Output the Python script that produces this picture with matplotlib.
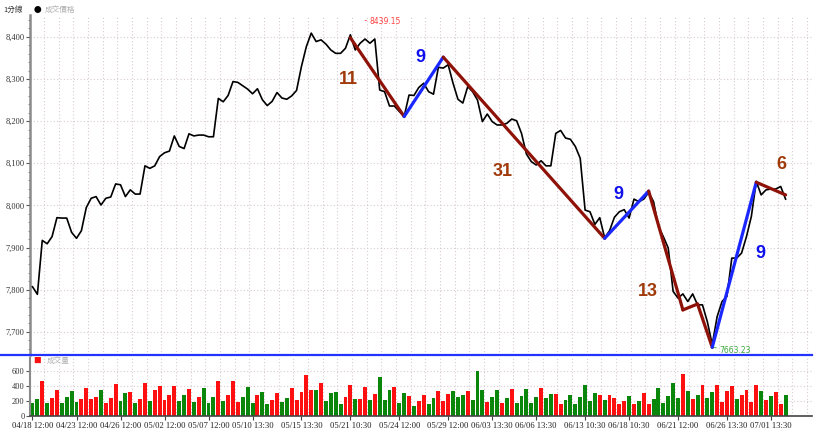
import matplotlib
matplotlib.use("Agg")
import matplotlib.pyplot as plt
import numpy as np

# ---------------------------------------------------------------
# datos (1 punto por barra)
# ---------------------------------------------------------------
price = [7807, 7789, 7917, 7909, 7926, 7971, 7970, 7970, 7936, 7922,
         7940, 7995, 8017, 8021, 8001, 8017, 8020, 8051, 8049, 8021,
         8037, 8027, 8027, 8094, 8088, 8094, 8116, 8125, 8129, 8165,
         8140, 8135, 8170, 8165, 8167, 8167, 8163, 8163, 8254, 8246,
         8261, 8294, 8292, 8284, 8276, 8265, 8277, 8251, 8237, 8247,
         8268, 8255, 8252, 8260, 8273, 8330, 8377, 8409, 8389, 8393,
         8383, 8369, 8361, 8361, 8373, 8405, 8369, 8385, 8395, 8385,
         8395, 8274, 8270, 8236, 8236, 8223, 8211, 8262, 8261, 8280,
         8290, 8270, 8264, 8328, 8326, 8334, 8290, 8252, 8243, 8282,
         8270, 8250, 8199, 8217, 8199, 8191, 8191, 8195, 8205, 8201,
         8171, 8122, 8104, 8096, 8106, 8094, 8094, 8171, 8178, 8160,
         8157, 8140, 8112, 7989, 7985, 7955, 7971, 7923, 7940, 7972,
         7985, 7990, 7970, 8015, 8009, 8015, 8031, 8009, 7950, 7926,
         7899, 7796, 7780, 7790, 7772, 7790, 7764, 7764, 7724, 7670,
         7736, 7772, 7784, 7875, 7875, 7887, 7926, 7974, 8057, 8025,
         8037, 8039, 8039, 8045, 8015]

volume = [169, 231, 466, 169, 244, 351, 169, 258, 333, 191,
          231, 369, 222, 258, 351, 173, 240, 431, 200, 302,
          320, 178, 231, 440, 204, 351, 404, 209, 284, 404,
          200, 275, 360, 191, 249, 373, 173, 249, 466, 204,
          284, 466, 182, 258, 382, 178, 275, 320, 155, 213,
          311, 187, 235, 369, 213, 320, 546, 342, 342, 435,
          200, 302, 320, 164, 249, 408, 222, 226, 382, 213,
          297, 524, 213, 342, 382, 173, 306, 266, 129, 200,
          280, 155, 235, 337, 200, 297, 333, 253, 280, 337,
          209, 604, 342, 182, 253, 342, 173, 244, 355, 173,
          271, 360, 173, 258, 369, 235, 298, 298, 164, 218,
          284, 164, 253, 413, 200, 311, 284, 213, 284, 235,
          155, 200, 266, 164, 204, 306, 155, 222, 369, 178,
          266, 435, 235, 555, 333, 222, 284, 408, 235, 315,
          408, 191, 329, 400, 222, 280, 351, 182, 417, 333,
          209, 266, 320, 164, 275]

# r = barra roja, g = barra verde (10 por bloque)
vol_color = ("ggrgrrgggg" "rrrrgrrrgg" "rgrrgrrrrr" "ggrgrgggrg"
             "rrrgggrggr" "rggrrrrrgr" "ggggrrgrrg" "rgggrggrgr"
             "rggrrrgggr" "gggrggrgrg" "ggggrggrrg" "ggggggrgrr"
             "rrgrgrrggg" "gggrgrgrgg" "rrrrgrrrrg" "rgrrg")

tick_idx = [0, 9, 18, 27, 36, 45, 55, 65, 75, 85, 94, 103, 113, 122, 132, 142, 151]
tick_labels = ["04/18 12:00", "04/23 12:00", "04/26 12:00", "05/02 12:00",
               "05/07 12:00", "05/10 13:30", "05/15 13:30", "05/21 10:30",
               "05/24 12:00", "05/29 12:00", "06/03 13:30", "06/06 13:30",
               "06/13 10:30", "06/18 10:30", "06/21 12:00", "06/26 13:30",
               "07/01 13:30"]

# lineas de tendencia (zigzag)
zig_idx = [65, 76, 84, 117, 126, 133, 136, 139, 148, 154]
zig_val = [8398, 8211, 8352, 7922, 8034, 7752, 7766, 7663.23, 8055, 8025]
zig_up = [False, True, False, True, False, False, False, True, False]

leg_text = ["11", "9", "31", "9", "13", "9", "6"]
leg_idx = [64.5, 79.4, 96.2, 119.9, 125.8, 148.9, 153.2]
leg_val = [8298, 8350, 8080, 8025, 7795, 7887, 8096]
leg_up = [False, True, False, True, False, True, False]

max_idx, max_val = 68, 8439.15
min_idx, min_val = 139, 7663.23

# ---------------------------------------------------------------
# colores y estilo
# ---------------------------------------------------------------
RED = "#ff1010"
GREEN = "#0a870a"
BROWN = "#8e1208"
BROWN_TXT = "#a03a0a"
BLUE = "#1a28ff"
GRID = "#d8cad4"
SERIF = "Liberation Serif"
CJK = ["Noto Sans CJK TC", "DejaVu Sans"]

W, H = 826, 442
fig = plt.figure(figsize=(W / 100, H / 100), dpi=100)

x = np.arange(len(price))
xlim = (-0.51, 159.4)
grid_x = np.arange(2.35, 160, 3)

# ---- panel de precio ----
ax = fig.add_axes([30 / W, 1 - 355 / H, 782 / W, 340 / H])
ax.set_xlim(*xlim)
ax.set_ylim(7645, 8452)
for gx in grid_x:
    ax.axvline(gx, color=GRID, lw=0.8, ls=(0, (1, 2)), zorder=0)
for gy in range(7700, 8500, 100):
    ax.axhline(gy, color=GRID, lw=0.8, ls=(0, (1, 2)), zorder=0)

ax.plot(x, price, color="black", lw=1.2, zorder=3)

for k in range(len(zig_idx) - 1):
    ax.plot(zig_idx[k:k + 2], zig_val[k:k + 2],
            color=BLUE if zig_up[k] else BROWN, lw=2.3,
            solid_capstyle="round", zorder=4)

for t, xi, yv, up in zip(leg_text, leg_idx, leg_val, leg_up):
    ax.text(xi, yv, t, color="#1010ee" if up else BROWN_TXT, fontsize=13,
            fontweight="bold", family="Liberation Sans", ha="center",
            va="center", zorder=5)

ax.annotate("%.2f" % max_val, xy=(max_idx, max_val), xytext=(3, -1),
            textcoords="offset points", fontsize=5.5, color="#ff4040",
            va="center", ha="left",
            arrowprops=dict(arrowstyle="-", color="#ff4040", lw=0.6,
                            shrinkA=0, shrinkB=0))
ax.annotate("%.2f" % min_val, xy=(min_idx, min_val), xytext=(5, -2),
            textcoords="offset points", fontsize=5.5, color="#3aa83a",
            va="center", ha="left",
            arrowprops=dict(arrowstyle="-", color="#3aa83a", lw=0.6,
                            shrinkA=0, shrinkB=0))

ax.set_yticks(range(7700, 8500, 100))
ax.set_yticklabels(["{:,}".format(v) for v in range(7700, 8500, 100)],
                   family=SERIF, fontsize=6, color="#333333")
ax.set_yticks(range(7660, 8460, 20), minor=True)
ax.tick_params(axis="y", which="major", length=3, width=0.8, color="#555555", pad=1)
ax.tick_params(axis="y", which="minor", length=1.5, width=0.6, color="#777777")
ax.set_xticks([])
for s in ["top", "right", "bottom"]:
    ax.spines[s].set_visible(False)
ax.spines["left"].set_color("#8a8a8a")
ax.spines["left"].set_linewidth(1.8)

# ---- panel de volumen ----
av = fig.add_axes([30 / W, 1 - 416 / H, 782 / W, 58 / H])
av.set_xlim(*xlim)
av.set_ylim(0, 773)
for gx in grid_x:
    av.axvline(gx, color=GRID, lw=0.8, ls=(0, (1, 2)), zorder=0)
for gy in [200, 400, 600]:
    av.axhline(gy, color=GRID, lw=0.8, ls=(0, (1, 2)), zorder=0)
av.bar(x, volume, width=0.8,
       color=[RED if c == "r" else GREEN for c in vol_color], zorder=2)
av.set_yticks([0, 200, 400, 600])
av.set_yticklabels(["0", "200", "400", "600"], family=SERIF, fontsize=6,
                   color="#333333")
av.tick_params(axis="y", length=3, width=0.8, color="#555555", pad=1)
av.set_xticks(tick_idx)
av.set_xticklabels(tick_labels, family=SERIF, fontsize=6.2, color="#222222")
av.tick_params(axis="x", length=3, width=0.8, color="#444444", pad=1)
for s in ["top", "right"]:
    av.spines[s].set_visible(False)
av.spines["left"].set_color("#8a8a8a")
av.spines["left"].set_linewidth(1.5)
av.spines["bottom"].set_color("#444444")
av.spines["bottom"].set_linewidth(1.2)

# separador azul entre paneles
fig.add_artist(plt.Line2D([0, 812 / W], [1 - 355 / H] * 2, color="#2233ff", lw=1.6))

# leyendas
fig.text(3 / W, 1 - 10 / H, "1分線", fontsize=5.5, family=CJK, color="#333333", va="center")
fig.text(37 / W, 1 - 10 / H, "●", fontsize=5.5, family=CJK, color="black", va="center", ha="center")
fig.text(45 / W, 1 - 10 / H, "成交價格", fontsize=5.5, family=CJK, color="#b0b0b0", va="center")
fig.text(37 / W, 1 - 361 / H, "■", fontsize=5.5, family=CJK, color=RED, va="center", ha="center")
fig.text(47 / W, 1 - 361 / H, "成交量", fontsize=5.5, family=CJK, color="#b0b0b0", va="center")

fig.savefig("out.png", dpi=100)
